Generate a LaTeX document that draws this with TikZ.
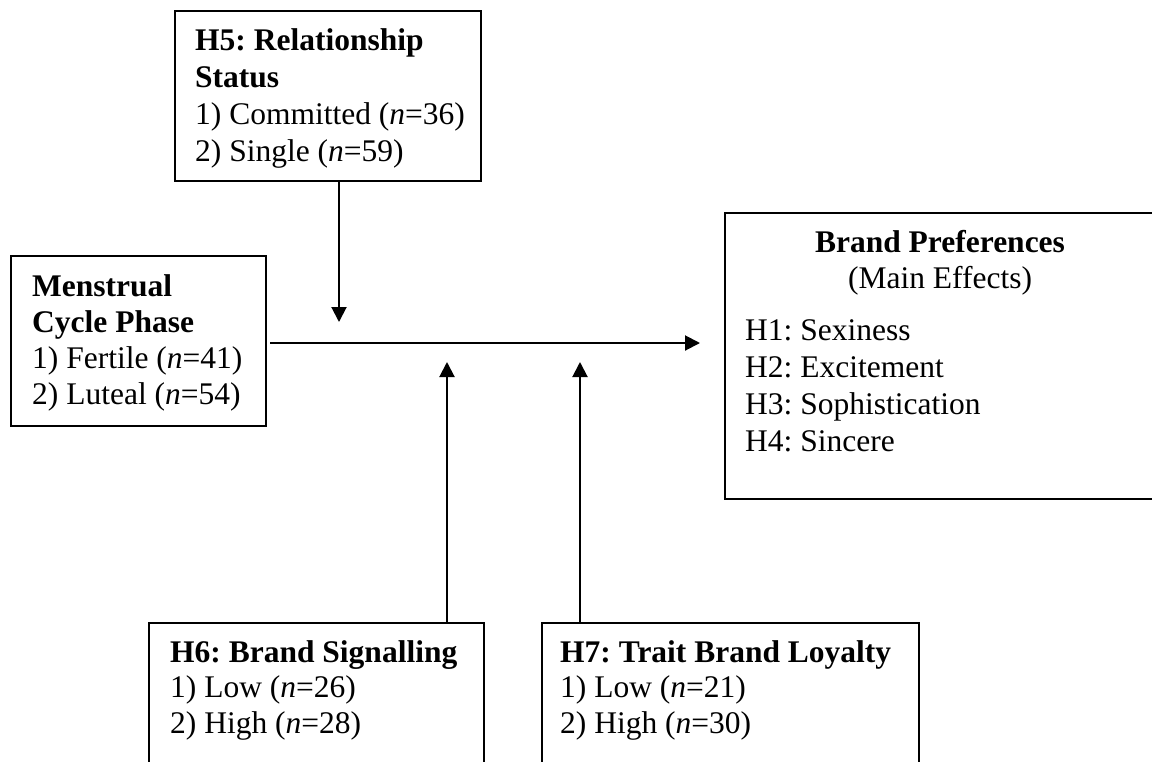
\documentclass[tikz,border=0pt]{standalone}
\usepackage{fontspec}
\setmainfont{Liberation Serif}
\usetikzlibrary{arrows.meta}
\begin{document}
\frenchspacing
\begin{tikzpicture}[x=1pt,y=-1pt,
  box/.style={draw=black, line width=2pt, rectangle, anchor=north west, inner sep=0pt},
  txt/.style={anchor=base west, inner sep=0pt, font=\fontsize{31.5}{37}\selectfont\frenchspacing},
  ctxt/.style={anchor=base, inner sep=0pt, font=\fontsize{31.5}{37}\selectfont\frenchspacing},
  arr/.style={line width=2pt, -{Triangle[length=15pt,width=15pt]}}]
\useasboundingbox (0,0) rectangle (1152,761);
\clip (0,0) rectangle (1152,761);
\fill[white] (0,0) rectangle (1152,761);
% boxes
\node[box, minimum width=306pt, minimum height=170pt] (h5) at (174,10) {};
\node[box, minimum width=255pt, minimum height=170pt] (mens) at (10,255) {};
\node[box, minimum width=432pt, minimum height=286pt] (brand) at (724,212) {};
\node[box, minimum width=335pt, minimum height=160pt] (h6) at (148,622) {};
\node[box, minimum width=377pt, minimum height=160pt] (h7) at (541,622) {};
% texts
\node[txt] (h5t) at (195,50) {\parbox[t]{320pt}{\frenchspacing\textbf{H5: Relationship}\\\textbf{Status}\\1) Committed (\textit{n}=36)\\2) Single (\textit{n}=59)}};
\node[txt] (menst) at (32,296) {\parbox[t]{260pt}{\fontsize{31.5}{36}\selectfont\frenchspacing\textbf{Menstrual}\\\textbf{Cycle Phase}\\1) Fertile (\textit{n}=41)\\2) Luteal (\textit{n}=54)}};
\node[ctxt] (bpt) at (940,252) {\textbf{Brand Preferences}};
\node[ctxt] (bps) at (940,288) {(Main Effects)};
\node[txt] (bpl) at (745,340) {\parbox[t]{380pt}{\fontsize{31.5}{37.3}\selectfont\frenchspacing H1: Sexiness\\H2: Excitement\\H3: Sophistication\\H4: Sincere}};
\node[txt] (h6t) at (170,662) {\parbox[t]{330pt}{\fontsize{31.5}{35.5}\selectfont\frenchspacing\textbf{H6: Brand Signalling}\\1) Low (\textit{n}=26)\\2) High (\textit{n}=28)}};
\node[txt] (h7t) at (560,662) {\parbox[t]{380pt}{\fontsize{31.5}{35.5}\selectfont\frenchspacing\textbf{H7: Trait Brand Loyalty}\\1) Low (\textit{n}=21)\\2) High (\textit{n}=30)}};
% connector ends
\coordinate (tipM) at (700,343);
\coordinate (tipD) at (339,322);
\coordinate (tipU1) at (447,362);
\coordinate (tipU2) at (580,362);
% connectors
\draw[arr, shorten <=3pt] (mens.east |- tipM) -- (tipM);
\draw[arr] (h5.south -| tipD) -- (tipD);
\draw[arr] (h6.north -| tipU1) -- (tipU1);
\draw[arr] (h7.north -| tipU2) -- (tipU2);
\end{tikzpicture}
\end{document}
